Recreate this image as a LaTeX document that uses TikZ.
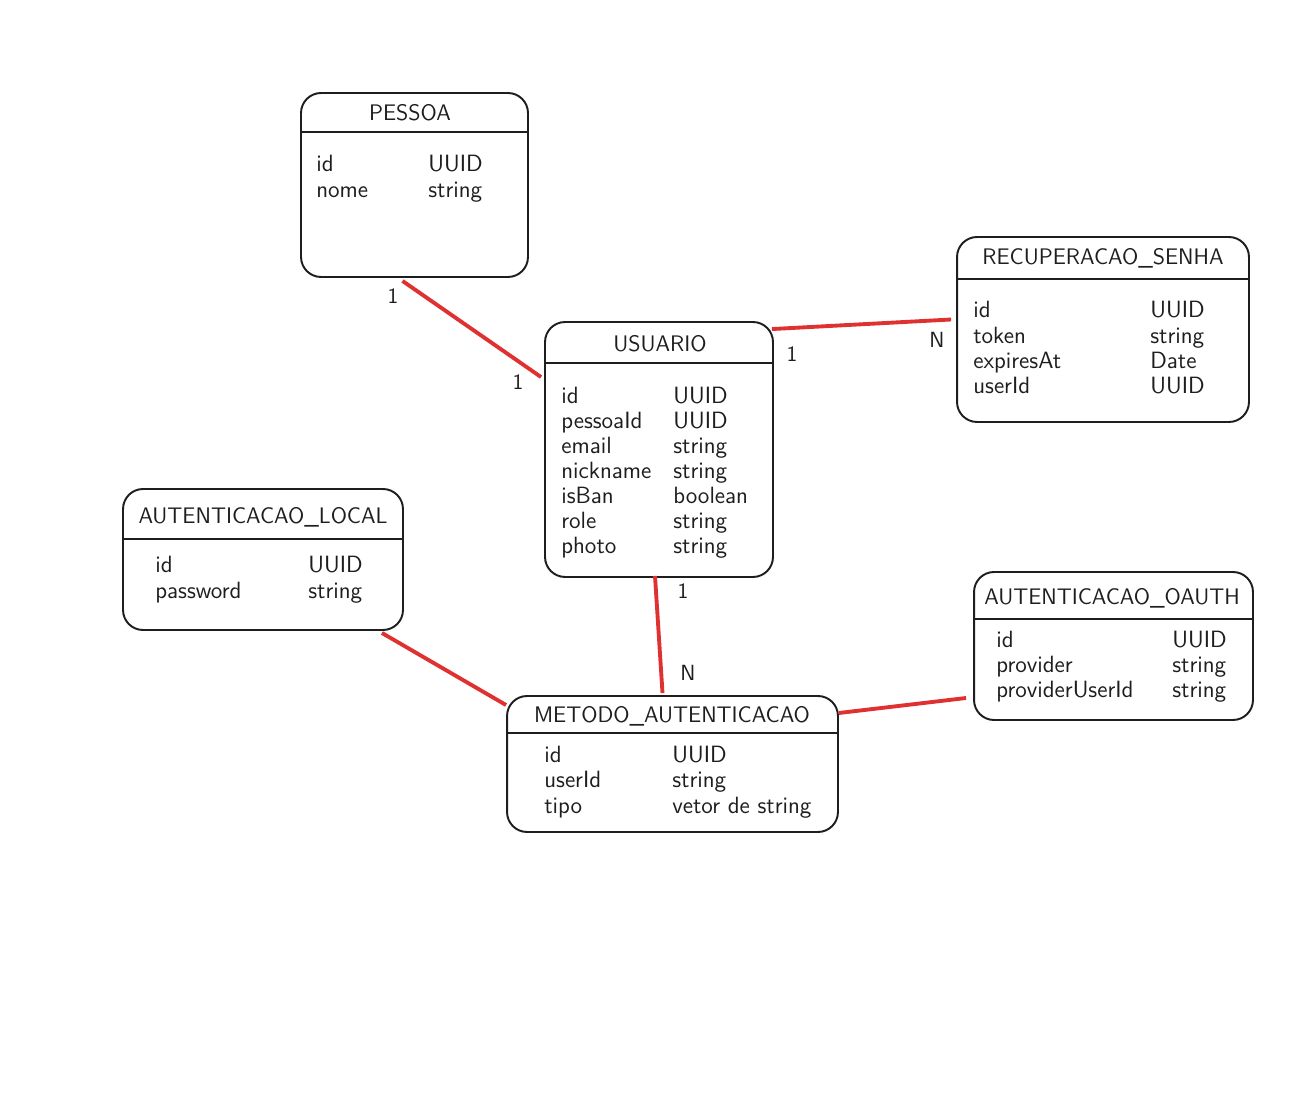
\documentclass[tikz,border=0pt]{standalone}
\usepackage{tikz}
\usetikzlibrary{calc,positioning}
\definecolor{linha}{HTML}{1E1E1E}
\definecolor{relacao}{HTML}{E03131}

\begin{document}
\begin{tikzpicture}[
    x=0.02cm, y=-0.02cm,
    tabela/.style={draw=linha,line width=1.1pt,rounded corners=0.4cm,inner sep=0pt},
    divisor/.style={draw=linha,line width=1.1pt},
    titulo/.style={font=\sffamily\fontsize{12.8}{15}\selectfont,text=linha},
    campo/.style={anchor=base west,font=\sffamily\fontsize{13.4}{15}\selectfont,text=linha,inner sep=0pt},
    rel/.style={draw=relacao,line width=2.2pt},
    card/.style={font=\sffamily\fontsize{12.5}{14}\selectfont,text=linha}
]
\useasboundingbox (0,0) rectangle (1306,1101);

% PESSOA
\node[tabela,minimum width=4.54cm,minimum height=3.68cm] (pessoa) at (414.5,185) {};
\draw[divisor] ($(pessoa.north west)+(0,40)$) -- ($(pessoa.north east)+(0,40)$);
\node[titulo] (pessoa-titulo) at (410,113) {PESSOA};
\foreach \campo/\tipo [count=\i from 0] in {id/UUID,nome/string}{
    \node[campo] (pessoa-nome\i) at (316,172+26*\i) {\campo};
    \node[campo] (pessoa-tipo\i) at (428,172+26*\i) {\tipo};
}

% USUARIO
\node[tabela,minimum width=4.56cm,minimum height=5.10cm] (usuario) at (659,449.5) {};
\draw[divisor] ($(usuario.north west)+(0,42)$) -- ($(usuario.north east)+(0,42)$);
\node[titulo] (usuario-titulo) at (660,344) {USUARIO};
\foreach \campo/\tipo [count=\i from 0] in {id/UUID,pessoaId/UUID,email/string,nickname/string,isBan/boolean,role/string,photo/string}{
    \node[campo] (usuario-nome\i) at (561,404+25*\i) {\campo};
    \node[campo] (usuario-tipo\i) at (673,404+25*\i) {\tipo};
}

% RECUPERACAO_SENHA
\node[tabela,minimum width=5.84cm,minimum height=3.70cm] (recuperacao) at (1103,329.5) {};
\draw[divisor] ($(recuperacao.north west)+(0,43)$) -- ($(recuperacao.north east)+(0,43)$);
\node[titulo] (recuperacao-titulo) at (1103,258) {RECUPERACAO\_SENHA};
\foreach \campo/\tipo [count=\i from 0] in {id/UUID,token/string,expiresAt/Date,userId/UUID}{
    \node[campo] (recuperacao-nome\i) at (973,318+25.3*\i) {\campo};
    \node[campo] (recuperacao-tipo\i) at (1150,318+25.3*\i) {\tipo};
}

% AUTENTICACAO_LOCAL
\node[tabela,minimum width=5.60cm,minimum height=2.82cm] (autLocal) at (263,559.5) {};
\draw[divisor] ($(autLocal.north west)+(0,51)$) -- ($(autLocal.north east)+(0,51)$);
\node[titulo] (autLocal-titulo) at (263,517) {AUTENTICACAO\_LOCAL};
\foreach \campo/\tipo [count=\i from 0] in {id/UUID,password/string}{
    \node[campo] (autLocal-nome\i) at (155,573+26*\i) {\campo};
    \node[campo] (autLocal-tipo\i) at (308,573+26*\i) {\tipo};
}

% METODO_AUTENTICACAO
\node[tabela,minimum width=6.62cm,minimum height=2.72cm] (metodo) at (672.5,764) {};
\draw[divisor] ($(metodo.north west)+(0,38)$) -- ($(metodo.north east)+(0,38)$);
\node[titulo] (metodo-titulo) at (672,716) {METODO\_AUTENTICACAO};
\foreach \campo/\tipo [count=\i from 0] in {id/UUID,userId/string,tipo/vetor de string}{
    \node[campo] (metodo-nome\i) at (544,762+25.5*\i) {\campo};
    \node[campo] (metodo-tipo\i) at (672,762+25.5*\i) {\tipo};
}

% AUTENTICACAO_OAUTH
\node[tabela,minimum width=5.58cm,minimum height=2.96cm] (autOauth) at (1113.5,646) {};
\draw[divisor] ($(autOauth.north west)+(0,48)$) -- ($(autOauth.north east)+(0,48)$);
\node[titulo] (autOauth-titulo) at (1112,598) {AUTENTICACAO\_OAUTH};
\foreach \campo/\tipo [count=\i from 0] in {id/UUID,provider/string,providerUserId/string}{
    \node[campo] (autOauth-nome\i) at (996,647+25*\i) {\campo};
    \node[campo] (autOauth-tipo\i) at (1172,647+25*\i) {\tipo};
}

% relacoes
\draw[rel] ($(pessoa.south)+(-12,3)$) -- ($(usuario.north west)+(-3,56)$);
\draw[rel] ($(usuario.north east)+(-2,8)$) -- ($(recuperacao.west)+(-5,-10)$);
\draw[rel] ($(usuario.south)+(-4,-2)$) -- ($(metodo.north)+(-10,-2)$);
\draw[rel] ($(autLocal.south east)+(-22,2)$) -- ($(metodo.north west)+(0,10)$);
\draw[rel] ($(metodo.east)+(0,-51)$) -- ($(autOauth.west)+(-7,52)$);

% cardinalidades
\node[card] (c1) at (393,296) {1};
\node[card] (c2) at (518,382) {1};
\node[card] (c3) at (792,354) {1};
\node[card] (c4) at (937,340) {N};
\node[card] (c5) at (683,591) {1};
\node[card] (c6) at (688,673) {N};
\end{tikzpicture}
\end{document}
